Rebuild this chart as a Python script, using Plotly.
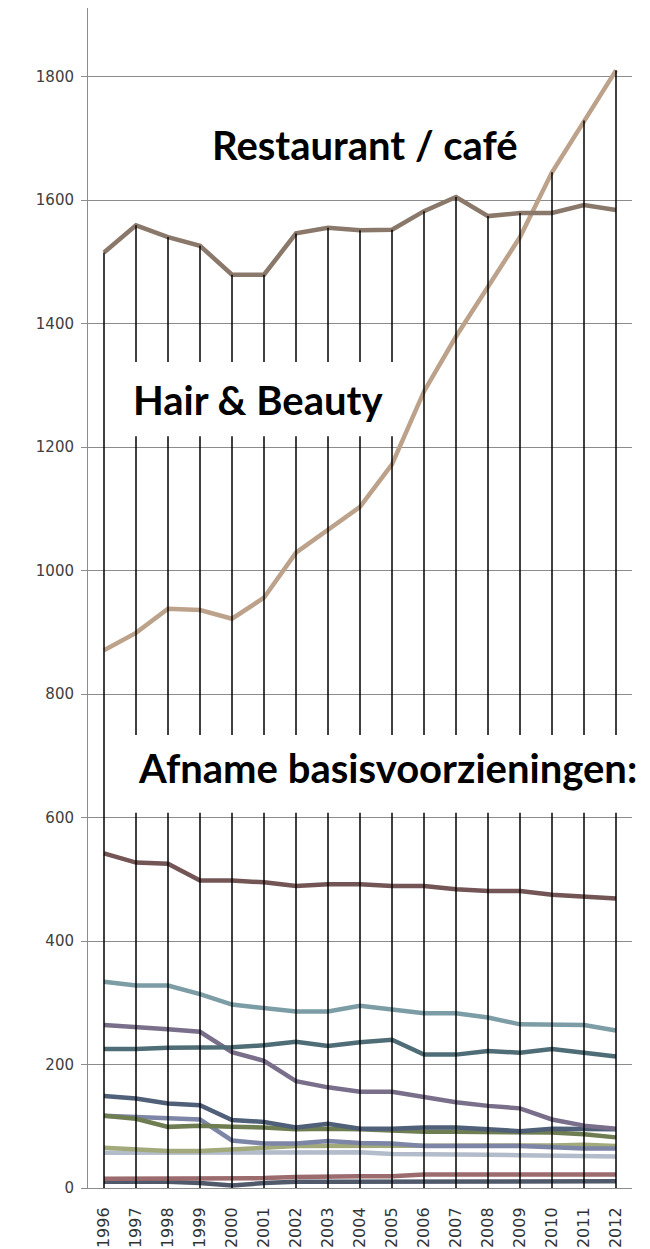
import numpy as np
import plotly.graph_objects as go

years = [str(y) for y in range(1996, 2013)]

restaurant_cafe = [1515, 1559, 1540, 1526, 1479, 1479, 1546, 1555, 1551, 1552, 1582, 1605, 1574, 1579, 1579, 1592, 1584]
hair_beauty = [871, 899, 938, 936, 922, 956, 1029, 1066, 1103, 1172, 1290, 1379, 1460, 1540, 1645, 1729, 1810]
serie_a = [542, 527, 525, 498, 498, 495, 489, 492, 492, 489, 489, 484, 481, 481, 475, 472, 469]
serie_b = [334, 328, 328, 314, 297, 291, 286, 286, 295, 289, 283, 283, 276, 265, 264, 264, 255]
serie_c = [225, 225, 227, 228, 228, 231, 237, 230, 236, 240, 216, 216, 222, 219, 225, 219, 213]
serie_d = [264, 261, 257, 253, 220, 206, 173, 163, 156, 156, 147, 139, 133, 129, 111, 101, 96]
serie_e = [149, 145, 137, 134, 110, 107, 98, 104, 96, 96, 98, 98, 95, 92, 96, 96, 95]
serie_f = [117, 115, 114, 111, 77, 72, 72, 76, 73, 72, 68, 68, 68, 68, 66, 64, 64]
serie_g = [117, 112, 99, 101, 99, 98, 95, 96, 95, 93, 91, 91, 91, 90, 90, 87, 82]
serie_h = [65, 62, 60, 60, 62, 65, 68, 68, 68, 69, 69, 69, 69, 69, 69, 70, 68]
serie_i = [57, 57, 57, 57, 57, 57, 57, 58, 58, 55, 55, 54, 54, 53, 52, 51, 51]
serie_j = [15, 15, 15, 15, 15, 16, 18, 19, 19, 19, 22, 22, 22, 22, 22, 22, 22]
serie_k = [10, 10, 10, 8, 4, 8, 10, 10, 10, 11, 11, 11, 11, 11, 11, 11, 11]

series = [
    ("Serie K", serie_k, "#515a6b"),
    ("Serie J", serie_j, "#9b6b6d"),
    ("Serie I", serie_i, "#b3bccb"),
    ("Serie H", serie_h, "#a2aa7c"),
    ("Serie F", serie_f, "#7d86a6"),
    ("Serie G", serie_g, "#6f7d52"),
    ("Serie E", serie_e, "#4f6078"),
    ("Serie D", serie_d, "#7a6f8b"),
    ("Serie C", serie_c, "#4f6d76"),
    ("Serie B", serie_b, "#7c9da6"),
    ("Serie A", serie_a, "#735556"),
    ("Hair & Beauty", hair_beauty, "#bda28b"),
    ("Restaurant / café", restaurant_cafe, "#8a796b"),
]

fig = go.Figure()
for name, vals, col in series:
    fig.add_trace(go.Scatter(x=years, y=vals, mode="lines", name=name,
                             line=dict(color=col, width=4.5)))

# drop lines from the highest value at each year down to zero
all_vals = np.array([s[1] for s in series])
tops = all_vals.max(axis=0)
dx, dy = [], []
for yr, t in zip(years, tops):
    dx += [yr, yr, None]
    dy += [float(t), 0, None]
fig.add_trace(go.Scatter(x=dx, y=dy, mode="lines", line=dict(color="black", width=1.5),
                         hoverinfo="skip", showlegend=False))

grid = "#8c8c8c"
label_font = dict(family="Lato", size=40, color="black", weight="bold")
fig.update_layout(
    width=642, height=1241,
    margin=dict(l=80, r=18, t=0, b=61),
    paper_bgcolor="white", plot_bgcolor="white",
    showlegend=False,
    font=dict(family="DejaVu Sans", size=15, color="#404040"),
    xaxis=dict(type="category", range=[-0.5, 16.5], showgrid=False, showline=True,
               linecolor=grid, linewidth=1, ticks="", tickangle=-90,
               ticklabelstandoff=12, tickfont=dict(size=16, color="#333333")),
    yaxis=dict(range=[0, 1911], tickvals=list(range(0, 2000, 200)), showgrid=True,
               gridcolor=grid, gridwidth=1, showline=True, linecolor=grid, linewidth=1,
               ticks="outside", ticklen=6, tickcolor=grid, zeroline=False,
               ticklabelstandoff=4, tickfont=dict(size=15, color="#404040")),
    shapes=[
        dict(type="rect", xref="paper", yref="paper", x0=0.059, x1=0.566, y0=0.637, y1=0.700,
             fillcolor="white", line=dict(width=0), layer="above"),
        dict(type="rect", xref="paper", yref="paper", x0=0.059, x1=1.04, y0=0.318, y1=0.384,
             fillcolor="white", line=dict(width=0), layer="above"),
    ],
    annotations=[
        dict(text="Restaurant / café", xref="paper", yref="paper", x=0.509, y=0.8843,
             xanchor="center", yanchor="middle", showarrow=False, font=label_font),
        dict(text="Hair & Beauty", xref="paper", yref="paper", x=0.3134, y=0.6678,
             xanchor="center", yanchor="middle", showarrow=False, font=label_font),
        dict(text="Afname basisvoorzieningen:", xref="paper", yref="paper", x=0.5506, y=0.3560,
             xanchor="center", yanchor="middle", showarrow=False, font=label_font),
    ],
)

fig.write_html("out.html")
